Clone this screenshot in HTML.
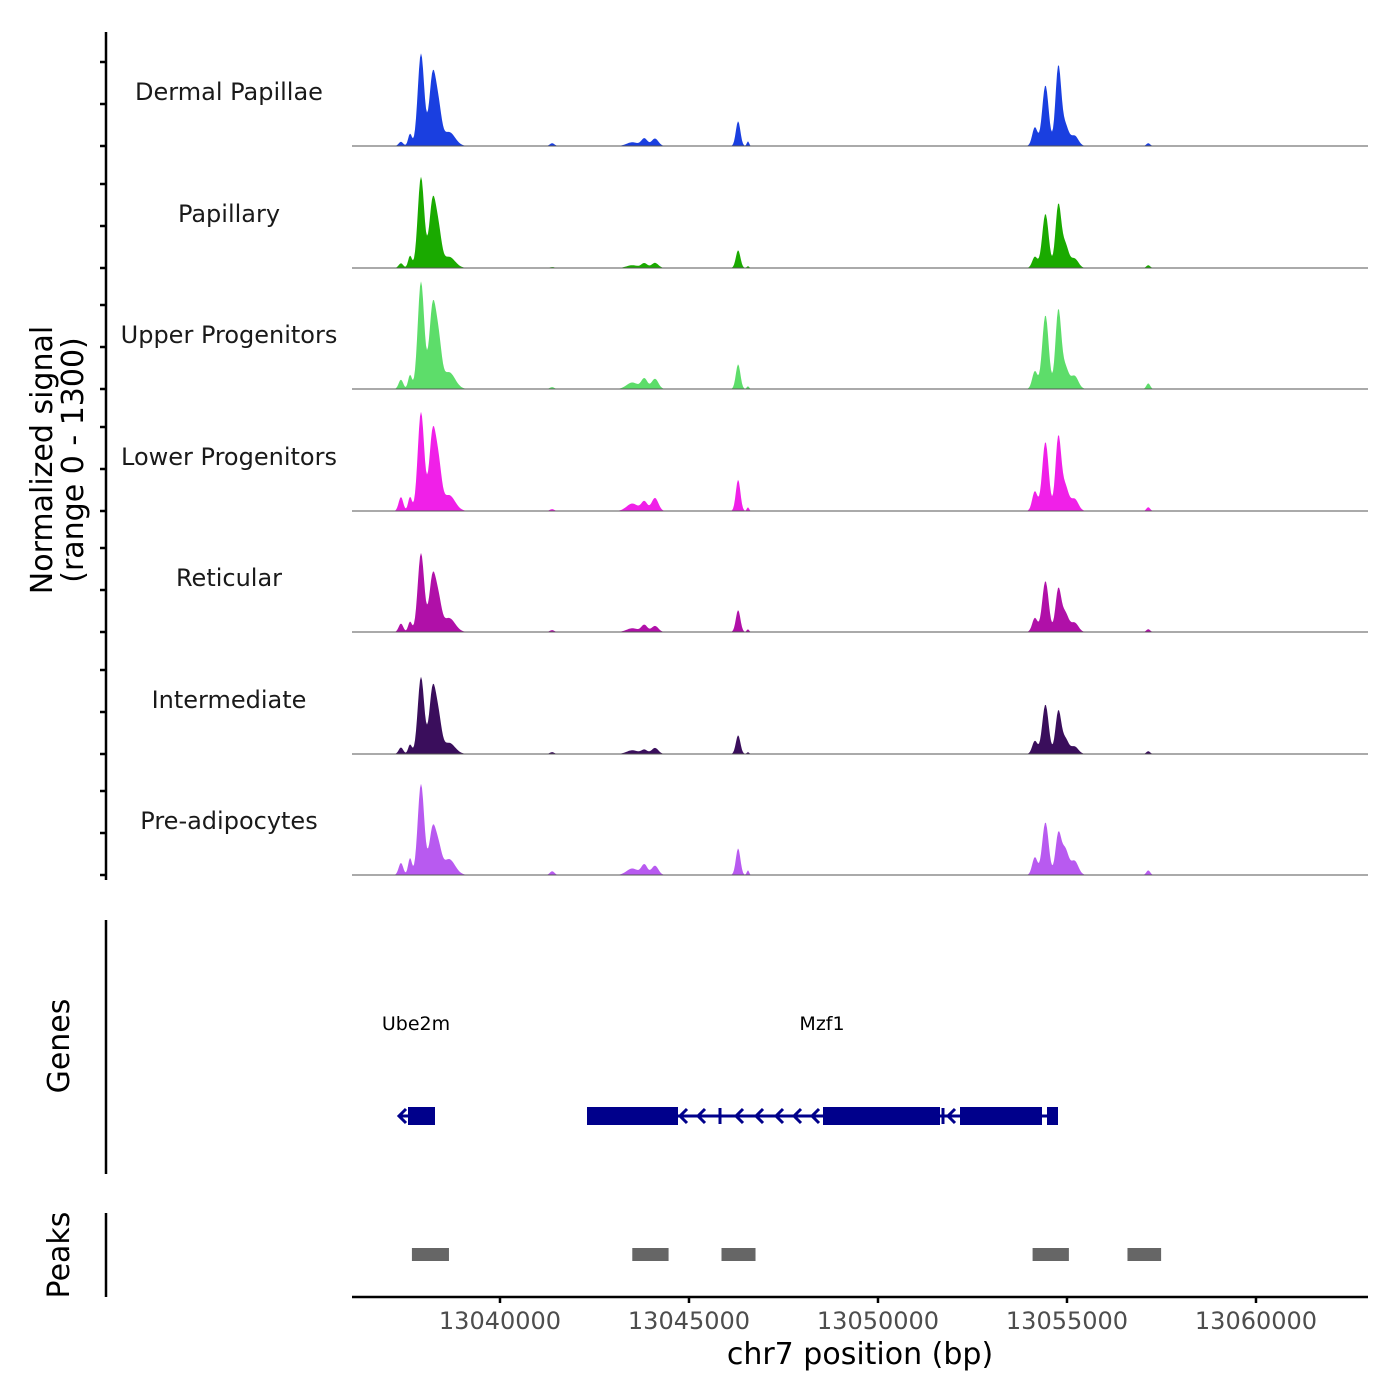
<!DOCTYPE html>
<html><head><meta charset="utf-8"><style>
body{margin:0;background:#fff}
svg{display:block;font-family:"DejaVu Sans","Liberation Sans",sans-serif}
</style></head><body>
<svg id="c" width="1400" height="1400" viewBox="0 0 1400 1400"></svg>
<script>
const trackNames=["Dermal Papillae","Papillary","Upper Progenitors","Lower Progenitors","Reticular","Intermediate","Pre-adipocytes"];
const trackColors=["#1a3fe0","#1aaa00","#5ddd6a","#f020e8","#b010a8","#3a0e5c","#b85af0"];
const peakCenters=[13037380,13037620,13037910,13038220,13038380,13038650,13041380,13043500,13043820,13044100,13046300,13046560,13054150,13054430,13054770,13054950,13055200,13057150];
const peakWidths=[60,50,85,90,80,160,60,150,80,90,60,30,70,85,75,90,100,50];
const sig0=[45,130,990,760,330,150,30,40,80,80,265,50,200,650,840,220,110,30];
const sig1=[50,130,975,720,320,120,10,30,50,55,190,20,120,580,660,250,100,30];
const sig2=[100,150,1150,880,420,180,20,70,110,110,265,30,190,790,830,230,140,60];
const sig3=[150,150,1060,840,400,170,20,80,100,140,335,40,210,740,780,260,130,40];
const sig4=[90,110,845,600,270,150,20,40,75,65,235,30,150,545,450,200,100,30];
const sig5=[70,100,825,700,310,120,20,40,45,65,200,20,140,530,450,160,80,30];
const sig6=[130,180,975,500,230,170,40,70,110,100,285,50,190,565,430,270,150,50];
const signals=[sig0,sig1,sig2,sig3,sig4,sig5,sig6];
const xTicks=[13040000,13045000,13050000,13055000,13060000];
const peakStarts=[13037670,13043500,13045860,13054090,13056600];
const peakEnds=[13038650,13044460,13046760,13055050,13057490];

const svg=document.getElementById('c');
const NS="http://www.w3.org/2000/svg";
const X0=352,X1=1368,BP0=13036085,BPPX=5000/189;
const xs=bp=>X0+(bp-BP0)/BPPX;
const bpAt=x=>BP0+(x-X0)*BPPX;
const baselines=[146,268,389,511,632,754,875];
const trackH=121.5,maxV=1300;
function mk(tag,attrs,txt){const e=document.createElementNS(NS,tag);for(const k in attrs)e.setAttribute(k,attrs[k]);if(txt!==undefined)e.textContent=txt;svg.appendChild(e);return e;}

let a=mk('line',{x1:106,y1:32,x2:106,y2:880,stroke:'#000','stroke-width':2.5});


baselines.forEach(b=>{[0,42,84].forEach(o=>{const t=mk('line',{x1:100,y1:b-o,x2:106,y2:b-o,stroke:'#000','stroke-width':2.5});

});});
let yt=mk('text',{transform:'translate(52,460) rotate(-90)','text-anchor':'middle','font-size':30});


const t1=document.createElementNS(NS,'tspan');t1.setAttribute('x',0);t1.setAttribute('dy',0);t1.textContent='Normalized signal';yt.appendChild(t1);
const t2=document.createElementNS(NS,'tspan');t2.setAttribute('x',0);t2.setAttribute('dy',31);t2.textContent='(range 0 - 1300)';yt.appendChild(t2);

trackNames.forEach((n,i)=>{
  const b=baselines[i];
  let d=`M${X0},${b}`;
  for(let x=X0;x<=X1;x+=1){
    const bp=bpAt(x);let v=0;
    for(let k=0;k<peakCenters.length;k++){const z=(bp-peakCenters[k])/peakWidths[k];v+=signals[i][k]*Math.exp(-0.5*z*z);}
    v=Math.min(v,maxV);
    d+=`L${x},${(b-v*trackH/maxV).toFixed(1)}`;
  }
  d+=`L${X1},${b}Z`;
  const p=mk('path',{d:d,fill:trackColors[i]});
  
  
  const l=mk('line',{x1:X0,y1:b,x2:X1,y2:b,stroke:'#555','stroke-width':1});
  
  
  const lb=mk('text',{x:229,y:b-46,'text-anchor':'middle','font-size':24,fill:'#1a1a1a'},n);
  
  
});

let ga=mk('line',{x1:106,y1:920,x2:106,y2:1174,stroke:'#000','stroke-width':2.5});


let gt=mk('text',{transform:'translate(69,1046) rotate(-90)','text-anchor':'middle','font-size':30},'Genes');


let g1=mk('text',{x:416,y:1030,'text-anchor':'middle','font-size':19},'Ube2m');


let g2=mk('text',{x:822,y:1030,'text-anchor':'middle','font-size':19},'Mzf1');


const gc='#00008b';
mk('line',{x1:400,y1:1116,x2:435,y2:1116,stroke:gc,'stroke-width':3});
mk('line',{x1:587,y1:1116,x2:1058,y2:1116,stroke:gc,'stroke-width':3});
[[408,435],[587,678],[823,940],[960,1042],[1047,1058]].forEach(([a1,b1])=>{const r=mk('rect',{x:a1,y:1107,width:b1-a1,height:18,fill:gc});

});
[399,680,698,736,756,776,794,812,948,964].forEach(x=>{mk('path',{d:`M${x+7},${1109}L${x},${1116}L${x+7},${1123}`,stroke:gc,'stroke-width':3,fill:'none'});});
[720,943].forEach(x=>mk('line',{x1:x,y1:1108,x2:x,y2:1124,stroke:gc,'stroke-width':3}));

let pa=mk('line',{x1:106,y1:1213,x2:106,y2:1297,stroke:'#000','stroke-width':2.5});


let pt=mk('text',{transform:'translate(69,1255) rotate(-90)','text-anchor':'middle','font-size':30},'Peaks');


peakStarts.forEach((s,i)=>{const r=mk('rect',{x:xs(s),y:1248,width:xs(peakEnds[i])-xs(s),height:13,fill:'#666'});

});

let xa=mk('line',{x1:X0,y1:1297,x2:X1,y2:1297,stroke:'#000','stroke-width':2.5});


xTicks.forEach(v=>{const x=xs(v);mk('line',{x1:x,y1:1297,x2:x,y2:1303,stroke:'#000','stroke-width':2.5});
const t=mk('text',{x:x,y:1329,'text-anchor':'middle','font-size':24,fill:'#4d4d4d'},String(v));

});
let xt=mk('text',{x:860,y:1364,'text-anchor':'middle','font-size':30},'chr7 position (bp)');


</script>
</body></html>
